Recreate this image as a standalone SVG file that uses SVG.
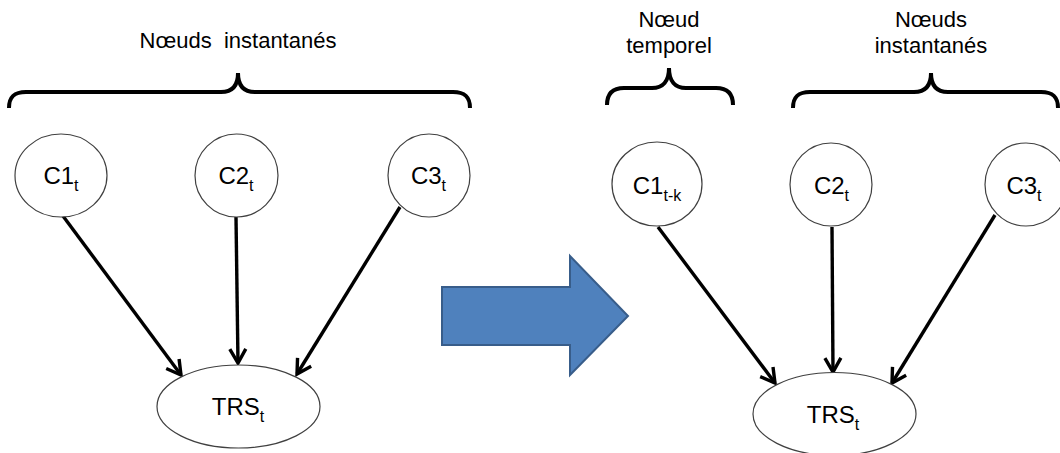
<svg xmlns="http://www.w3.org/2000/svg" width="1060" height="453" viewBox="0 0 1060 453">
<style>
  .node { fill: #fff; stroke: #404040; stroke-width: 1.2; }
  .lbl { font-family: "Liberation Sans", Arial, sans-serif; font-size: 24px; fill: #000; text-anchor: middle; }
  .sub { font-size: 16px; }
  .cap { font-family: "Liberation Sans", Arial, sans-serif; font-size: 22px; fill: #000; text-anchor: middle; white-space: pre; }
  .brace { fill: none; stroke: #000; stroke-width: 4; stroke-linecap: butt; }
  .edge { fill: none; stroke: #000; stroke-width: 3.4; }
</style>
<defs>
  <marker id="arr" markerUnits="userSpaceOnUse" markerWidth="26" markerHeight="26" refX="17" refY="11" orient="auto">
    <path d="M3,3 L17,11 L3,19" fill="none" stroke="#000" stroke-width="3.4"/>
  </marker>
</defs>

<g id="braces">
  <path class="brace" d="M9,108 C9,97 14,92 26,92 L221,92 C232,92 238,86 238,73 C238,86 244,92 255,92 L453,92 C465,92 470,97 470,108"/>
  <path class="brace" d="M607,105 C607,94 612,88 624,88 L652,88 C663,88 669,81 669,68 C669,81 675,88 686,88 L716,88 C728,88 733,94 733,105"/>
  <path class="brace" d="M793,108 C793,97 798,92 810,92 L914,92 C925,92 931,86 931,73 C931,86 937,92 948,92 L1041,92 C1053,92 1058,97 1058,108"/>
</g>

<g id="captions">
  <text class="cap" x="238" y="48" xml:space="preserve">Nœuds  instantanés</text>
  <text class="cap" x="669" y="27">Nœud</text>
  <text class="cap" x="669" y="53">temporel</text>
  <text class="cap" x="931" y="27">Nœuds</text>
  <text class="cap" x="931" y="53">instantanés</text>
</g>

<g id="connectors">
  <line class="edge" x1="63" y1="216" x2="181" y2="375" marker-end="url(#arr)"/>
  <line class="edge" x1="236" y1="217" x2="238" y2="363" marker-end="url(#arr)"/>
  <line class="edge" x1="400" y1="207" x2="297" y2="374" marker-end="url(#arr)"/>
  <line class="edge" x1="658" y1="227" x2="775" y2="383" marker-end="url(#arr)"/>
  <line class="edge" x1="832" y1="227" x2="833" y2="372" marker-end="url(#arr)"/>
  <line class="edge" x1="995" y1="215" x2="892" y2="383" marker-end="url(#arr)"/>
</g>

<g id="L_C1">
  <ellipse class="node" cx="61" cy="175.5" rx="46" ry="41.5"/>
  <text class="lbl" x="61" y="184">C1<tspan class="sub" dy="7">t</tspan></text>
</g>
<g id="L_C2">
  <ellipse class="node" cx="236.5" cy="175.5" rx="41.5" ry="41.5"/>
  <text class="lbl" x="236" y="184">C2<tspan class="sub" dy="7">t</tspan></text>
</g>
<g id="L_C3">
  <ellipse class="node" cx="429" cy="175.5" rx="41" ry="41.5"/>
  <text class="lbl" x="428.5" y="184">C3<tspan class="sub" dy="7">t</tspan></text>
</g>
<g id="L_TRS">
  <ellipse class="node" cx="238.5" cy="406.5" rx="81.5" ry="41.5"/>
  <text class="lbl" x="238" y="415">TRS<tspan class="sub" dy="7">t</tspan></text>
</g>

<g id="bigArrow">
  <path d="M442,287 L570,287 L570,256 L628,316 L570,375 L570,345 L442,345 Z" fill="#4F81BD" stroke="#385D8A" stroke-width="2"/>
</g>

<g id="R_C1">
  <ellipse class="node" cx="657" cy="184" rx="45" ry="42"/>
  <text class="lbl" x="657" y="194">C1<tspan class="sub" dy="7">t-k</tspan></text>
</g>
<g id="R_C2">
  <ellipse class="node" cx="831" cy="184.5" rx="41" ry="41.5"/>
  <text class="lbl" x="831.5" y="194">C2<tspan class="sub" dy="7">t</tspan></text>
</g>
<g id="R_C3">
  <ellipse class="node" cx="1026" cy="184.5" rx="41" ry="41.5"/>
  <text class="lbl" x="1024" y="194">C3<tspan class="sub" dy="7">t</tspan></text>
</g>
<g id="R_TRS">
  <ellipse class="node" cx="834.5" cy="414" rx="81.5" ry="41.5"/>
  <text class="lbl" x="833" y="423">TRS<tspan class="sub" dy="7">t</tspan></text>
</g>
</svg>
